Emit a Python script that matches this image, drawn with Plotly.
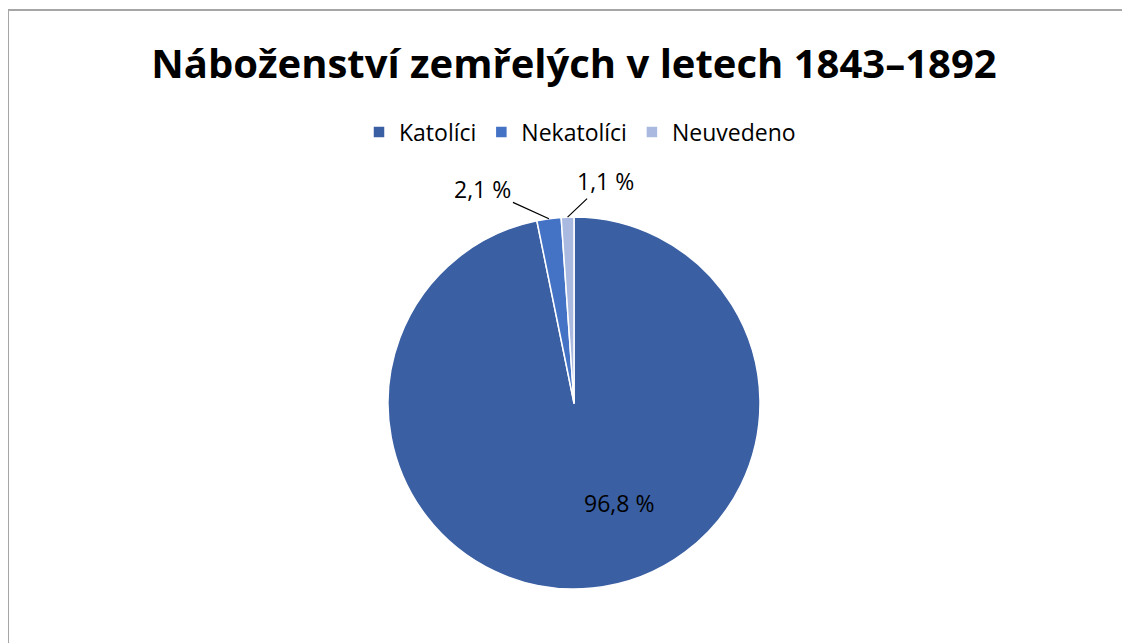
import math
import plotly.graph_objects as go

labels = ["Katolíci", "Nekatolíci", "Neuvedeno"]
values = [96.8, 2.1, 1.1]
colors = ["#3A5FA3", "#4472C4", "#A9B9DF"]
text_labels = [f"{v:.1f} %".replace(".", ",") for v in values]

# figure geometry (page body has an 8 px margin)
W, H = 1122, 635
ml, mr, mt, mb = 10, 0, 209, 54
pw, ph = W - ml - mr, H - mt - mb
cx, cy, R = ml + pw / 2, mt + ph / 2, ph / 2


def to_paper(px, py):
    return (px - ml) / pw, (H - mb - py) / ph


fig = go.Figure(go.Pie(
    labels=labels,
    values=values,
    textinfo="none",
    sort=False,
    direction="clockwise",
    rotation=0,
    marker=dict(colors=colors, line=dict(color="white", width=1.5)),
    automargin=False,
    hoverinfo="label+percent",
))

# data labels: small slices get leader lines pointing at the mid-angle of their slice
total = sum(values)
annotations = []
cum = 0.0
label_style = [
    dict(r=0.68, dang=-15.0, arrow=False),  # big slice: inside label
    dict(r=1.0, ax=-66, ay=-30, arrow=True),
    dict(r=1.0, ax=38, ay=-36, arrow=True),
]
for v, t, st in zip(values, text_labels, label_style):
    mid = (cum + v / 2) / total * 360.0
    cum += v
    ang = math.radians(mid + st.get("dang", 0.0))
    px = cx + st["r"] * R * math.sin(ang)
    py = cy - st["r"] * R * math.cos(ang)
    x, y = to_paper(px, py)
    a = dict(x=x, y=y, xref="paper", yref="paper", text=t,
             font=dict(family="Open Sans", size=23, color="black"))
    if st["arrow"]:
        a.update(showarrow=True, arrowhead=0, arrowwidth=1.2, arrowcolor="black",
                 ax=st["ax"], ay=st["ay"], standoff=0)
    else:
        a.update(showarrow=False)
    annotations.append(a)

lx, ly = to_paper(572, 124)
fx0, fy1 = to_paper(0, 2)

fig.update_layout(
    width=W, height=H,
    margin=dict(l=ml, r=mr, t=mt, b=mb),
    paper_bgcolor="white",
    title=dict(text="<b>Náboženství zemřelých v letech 1843–1892</b>",
               x=cx / W, xanchor="center", y=1 - 56 / H, yanchor="middle",
               font=dict(family="Open Sans", size=40, color="black")),
    legend=dict(orientation="h", x=lx, xanchor="center", y=ly, yanchor="middle",
                font=dict(family="Open Sans", size=23, color="black"),
                itemwidth=30, tracegroupgap=0),
    showlegend=True,
    annotations=annotations,
    shapes=[dict(type="rect", xref="paper", yref="paper",
                 x0=fx0, x1=1.2, y0=-0.5, y1=fy1,
                 line=dict(color="#A6A6A6", width=2), layer="below")],
)

fig.write_html("out.html")
